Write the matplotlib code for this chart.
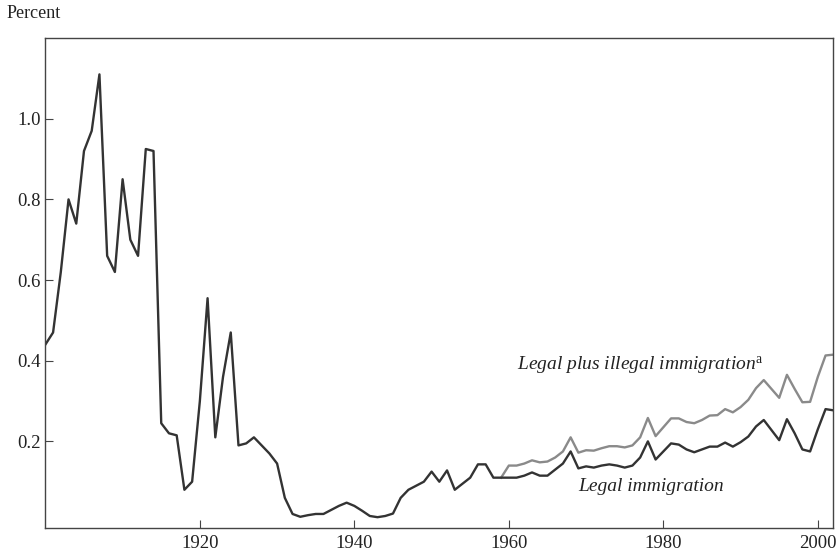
import matplotlib
matplotlib.use("Agg")
import matplotlib.pyplot as plt

plt.rcParams['font.family'] = ['Liberation Serif', 'DejaVu Serif']
plt.rcParams['mathtext.fontset'] = 'custom'
plt.rcParams['mathtext.rm'] = 'Liberation Serif'
plt.rcParams['mathtext.it'] = 'Liberation Serif:italic'

years = list(range(1900, 2003))
legal = [0.44, 0.47, 0.62, 0.80, 0.74, 0.92, 0.97, 1.11, 0.66, 0.62,
         0.85, 0.70, 0.66, 0.925, 0.92, 0.245, 0.22, 0.215, 0.08, 0.10,
         0.30, 0.555, 0.21, 0.36, 0.47, 0.19, 0.195, 0.21, 0.19, 0.17,
         0.145, 0.06, 0.02, 0.013, 0.017, 0.02, 0.02, 0.03, 0.04, 0.048,
         0.04, 0.028, 0.015, 0.012, 0.015, 0.021, 0.06, 0.08, 0.09, 0.10,
         0.125, 0.10, 0.128, 0.08, 0.095, 0.11, 0.143, 0.143, 0.11, 0.11,
         0.11, 0.11, 0.115, 0.123, 0.115, 0.115, 0.13, 0.145, 0.175, 0.133,
         0.138, 0.135, 0.14, 0.143, 0.14, 0.135, 0.14, 0.16, 0.20, 0.155,
         0.175, 0.195, 0.192, 0.18, 0.173, 0.18, 0.187, 0.187, 0.197, 0.187,
         0.198, 0.212, 0.237, 0.253, 0.228, 0.203, 0.255, 0.22, 0.18, 0.175,
         0.23, 0.28, 0.277]

years_total = list(range(1959, 2003))
legal_illegal = [0.11,
                 0.14, 0.14, 0.145, 0.153, 0.148, 0.15, 0.16, 0.175, 0.21, 0.172,
                 0.178, 0.177, 0.183, 0.188, 0.188, 0.185, 0.19, 0.21, 0.258, 0.213,
                 0.235, 0.257, 0.257, 0.248, 0.245, 0.253, 0.264, 0.265, 0.28, 0.272,
                 0.285, 0.303, 0.332, 0.352, 0.33, 0.308, 0.365, 0.33, 0.297, 0.298,
                 0.36, 0.413, 0.415]

fig = plt.figure(figsize=(8.4, 5.6), dpi=100)
ax = fig.add_axes([0.054, 0.057, 0.938, 0.875])

ax.plot(years_total, legal_illegal, color='#8a8a8a', linewidth=1.7)
ax.plot(years, legal, color='#333333', linewidth=1.7)

ax.set_xlim(1900, 2002)
ax.set_ylim(-0.015, 1.2)
ax.set_xticks([1920, 1940, 1960, 1980, 2000])
ax.set_yticks([0.2, 0.4, 0.6, 0.8, 1.0])
ax.set_yticklabels(['0.2', '0.4', '0.6', '0.8', '1.0'])
ax.tick_params(direction='in', length=6, labelsize=13.5, color='#444444',
               labelcolor='#222222')
ax.tick_params(axis='x', pad=5)
for s in ax.spines.values():
    s.set_color('#444444')
    s.set_linewidth(1.0)

ax.text(1961, 0.39, 'Legal plus illegal immigration$^{\\mathrm{a}}$', fontsize=14,
        style='italic', color='#222222', va='center')
ax.text(1969, 0.088, 'Legal immigration', fontsize=14, style='italic',
        color='#222222', va='center')
fig.text(0.008, 0.975, 'Percent', fontsize=13, va='center', color='#222222')

fig.savefig('out.png', dpi=100)
